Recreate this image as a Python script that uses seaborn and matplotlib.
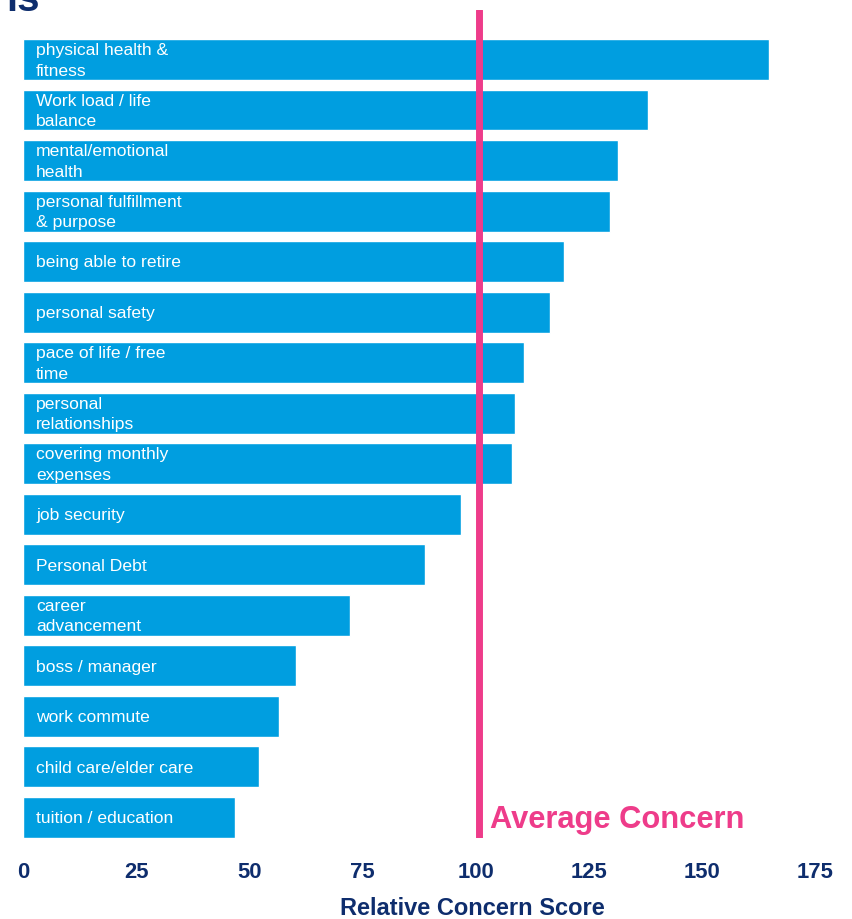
import matplotlib
matplotlib.use("Agg")
import matplotlib.pyplot as plt
import seaborn as sns

# categories (top to bottom) and their relative concern scores
concerns = [
    "physical health &\nfitness",
    "Work load / life\nbalance",
    "mental/emotional\nhealth",
    "personal fulfillment\n& purpose",
    "being able to retire",
    "personal safety",
    "pace of life / free\ntime",
    "personal\nrelationships",
    "covering monthly\nexpenses",
    "job security",
    "Personal Debt",
    "career\nadvancement",
    "boss / manager",
    "work commute",
    "child care/elder care",
    "tuition / education",
]
scores = [164.9, 138.0, 131.4, 129.8, 119.5, 116.4, 110.7, 108.7,
          108.0, 96.8, 88.8, 72.3, 60.3, 56.5, 52.1, 46.8]
average_score = 100.7
x_ticks = [0, 25, 50, 75, 100, 125, 150, 175]

BLUE = "#009EE0"
PINK = "#EE3C8A"
NAVY = "#0E2D6D"

sns.set_style("white")
plt.rcParams["font.family"] = ["Liberation Sans", "DejaVu Sans"]

fig = plt.figure(figsize=(8.52, 9.19), dpi=100)
ax = fig.add_axes([23 / 852, 1 - 838 / 919, 792 / 852, 828 / 919])

sns.barplot(x=scores, y=concerns, orient="h", color=BLUE, saturation=1,
            width=0.81, ax=ax)

# labels inside the bars
for i, lab in enumerate(concerns):
    ax.annotate(lab, xy=(0, i), xytext=(9.4, -1), textcoords="offset points",
                ha="left", va="center", color="white", fontsize=12.6,
                linespacing=1.45)

# average line and its label
ax.axvline(average_score, color=PINK, lw=5)
ax.annotate("Average Concern", xy=(average_score, len(concerns) - 1),
            xytext=(8, -2), textcoords="offset points", ha="left", va="center",
            color=PINK, fontsize=22.2, fontweight="bold")

ax.set_xlim(0, 175)
ax.set_ylim(len(concerns) - 1 + 0.41, -0.98)
ax.set_xticks(x_ticks)
ax.set_xticklabels([str(t) for t in x_ticks], fontsize=15.8,
                   fontweight="bold", color=NAVY)
ax.tick_params(axis="x", length=0, pad=17)
ax.set_yticks([])
ax.set_ylabel("")
ax.set_xlabel("Relative Concern Score", fontsize=17, fontweight="bold",
              color=NAVY)
ax.xaxis.set_label_coords(0.568, -0.071)
sns.despine(ax=ax, left=True, bottom=True)

# tail of the cropped title
fig.text(0.007, 1 - 11 / 919, "ls", fontsize=29, fontweight="bold",
         color=NAVY, ha="left", va="baseline")

fig.savefig("out.png", dpi=100)
